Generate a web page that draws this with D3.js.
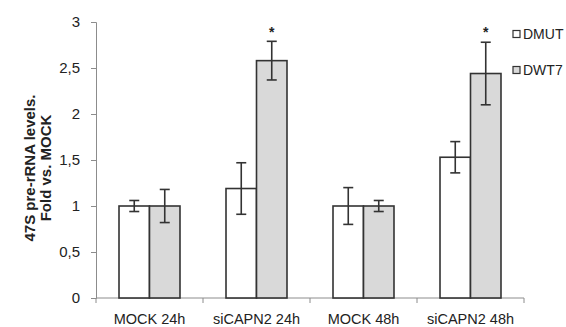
<!DOCTYPE html>
<html>
<head>
<meta charset="utf-8">
<script src="https://cdn.jsdelivr.net/npm/d3@7"></script>
<style>
  body { margin: 0; background: #fff; }
  svg text { font-family: "Liberation Sans", Arial, sans-serif; fill: #222; }
</style>
</head>
<body>
<svg id="chart" width="566" height="327"></svg>
<script>
var width = 566, height = 327;

var categories = ["MOCK 24h", "siCAPN2 24h", "MOCK 48h", "siCAPN2 48h"];
var seriesNames = ["DMUT", "DWT7"];
var dmut = [1.0, 1.19, 1.0, 1.53];
var dmutErr = [0.06, 0.28, 0.2, 0.17];
var dwt7 = [1.0, 2.58, 1.0, 2.44];
var dwt7Err = [0.18, 0.21, 0.06, 0.34];
var stars = ["", "*", "", "*"];
var yTicks = [0, 0.5, 1, 1.5, 2, 2.5, 3];

var fills = { DMUT: "#ffffff", DWT7: "#d9d9d9" };

var data = [];
categories.forEach(function (c, i) {
        data.push({ cat: c, series: "DMUT", value: dmut[i], err: dmutErr[i] });
        data.push({ cat: c, series: "DWT7", value: dwt7[i], err: dwt7Err[i], star: stars[i] });
});

var plotLeft = 96, plotRight = 524, plotTop = 22, plotBottom = 298;

var x0 = d3.scaleBand()
        .domain(categories)
        .range([plotLeft, plotRight])
        .paddingInner(0.43)
        .paddingOuter(0.215);

var x1 = d3.scaleBand()
        .domain(seriesNames)
        .range([0, x0.bandwidth()]);

var y = d3.scaleLinear()
        .domain([0, 3])
        .range([plotBottom, plotTop]);

var svg = d3.select("#chart");

// y axis
var yAxis = svg.append("g")
        .attr("transform", "translate(" + plotLeft + ",0)")
        .call(d3.axisLeft(y)
                .tickValues(yTicks)
                .tickSize(5)
                .tickPadding(11)
                .tickFormat(function (d) { return String(d).replace(".", ","); }));
yAxis.select(".domain").attr("stroke", "#8c8c8c");
yAxis.selectAll(".tick line").attr("stroke", "#8c8c8c");
yAxis.selectAll(".tick text").style("font-size", "15px").attr("fill", "#222");

// x axis line with ticks between categories
var xg = svg.append("g");
xg.append("line")
        .attr("x1", plotLeft).attr("x2", plotRight)
        .attr("y1", plotBottom).attr("y2", plotBottom)
        .attr("stroke", "#8c8c8c");
var boundaries = d3.range(categories.length + 1).map(function (i) { return plotLeft + i * x0.step(); });
xg.selectAll(".bt")
        .data(boundaries)
        .enter().append("line")
        .attr("x1", function (d) { return d; })
        .attr("x2", function (d) { return d; })
        .attr("y1", plotBottom)
        .attr("y2", plotBottom + 5)
        .attr("stroke", "#8c8c8c");
xg.selectAll(".xl")
        .data(categories)
        .enter().append("text")
        .attr("x", function (d) { return x0(d) + x0.bandwidth() / 2; })
        .attr("y", 324)
        .attr("text-anchor", "middle")
        .style("font-size", "14.5px")
        .text(function (d) { return d; });

// bars
svg.selectAll(".bar")
        .data(data)
        .enter().append("rect")
        .attr("class", "bar")
        .attr("x", function (d) { return x0(d.cat) + x1(d.series); })
        .attr("y", function (d) { return y(d.value); })
        .attr("width", x1.bandwidth())
        .attr("height", function (d) { return y(0) - y(d.value); })
        .attr("fill", function (d) { return fills[d.series]; })
        .attr("stroke", "#333")
        .attr("stroke-width", 1.6);

// error bars
var eb = svg.selectAll(".err")
        .data(data)
        .enter().append("g")
        .attr("class", "err")
        .attr("stroke", "#333")
        .attr("stroke-width", 1.6);
function cx(d) { return x0(d.cat) + x1(d.series) + x1.bandwidth() / 2; }
eb.append("line")
        .attr("x1", cx).attr("x2", cx)
        .attr("y1", function (d) { return y(d.value + d.err); })
        .attr("y2", function (d) { return y(d.value - d.err); });
eb.append("line")
        .attr("x1", function (d) { return cx(d) - 5; })
        .attr("x2", function (d) { return cx(d) + 5; })
        .attr("y1", function (d) { return y(d.value + d.err); })
        .attr("y2", function (d) { return y(d.value + d.err); });
eb.append("line")
        .attr("x1", function (d) { return cx(d) - 5; })
        .attr("x2", function (d) { return cx(d) + 5; })
        .attr("y1", function (d) { return y(d.value - d.err); })
        .attr("y2", function (d) { return y(d.value - d.err); });

// significance stars
svg.selectAll(".star")
        .data(data.filter(function (d) { return d.star; }))
        .enter().append("text")
        .attr("class", "star")
        .attr("x", cx)
        .attr("y", 37)
        .attr("text-anchor", "middle")
        .style("font-size", "14px")
        .style("font-weight", "bold")
        .text(function (d) { return d.star; });

// legend
var legend = svg.selectAll(".legend")
        .data(seriesNames)
        .enter().append("g")
        .attr("class", "legend")
        .attr("transform", function (d, i) { return "translate(513," + (34 + i * 36) + ")"; });
legend.append("rect")
        .attr("x", 0).attr("y", -3.5)
        .attr("width", 7).attr("height", 7)
        .attr("fill", function (d) { return fills[d]; })
        .attr("stroke", "#333")
        .attr("stroke-width", 1.2);
legend.append("text")
        .attr("x", 10)
        .attr("dy", "0.35em")
        .style("font-size", "14px")
        .text(function (d) { return d; });

// y label
var ylab = svg.append("text")
        .attr("transform", "translate(0,168) rotate(-90)")
        .attr("text-anchor", "middle")
        .style("font-size", "15px")
        .style("font-weight", "bold");
ylab.append("tspan").attr("x", 0).attr("y", 35).text("47S pre-rRNA levels.");
ylab.append("tspan").attr("x", 0).attr("y", 51).text("Fold vs. MOCK");
</script>
</body>
</html>
